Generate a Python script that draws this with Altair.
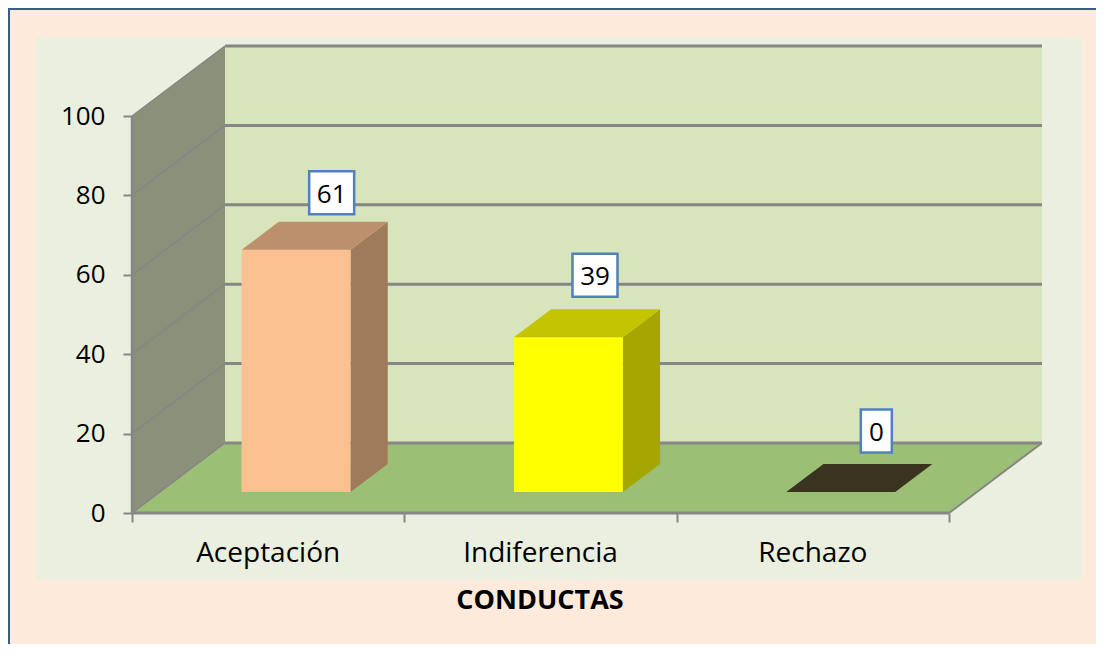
import altair as alt

categories = ["Aceptación", "Indiferencia", "Rechazo"]
values = [61, 39, 0]
ticks = [0, 20, 40, 60, 80, 100]
axis_title = "CONDUCTAS"

front_colors = ["#FAC090", "#FFFF00", "#4D4429"]
top_colors = ["#BC906C", "#C4C400", "#3A3320"]
side_colors = ["#9F7A5B", "#A6A600", "#2E2819"]

# canvas and projection geometry
W, H = 1088, 636
OX, OY = 8, 8                 # page margin
X0_PX, Y0_PX = 132, 513       # front-left origin on the page
PX_PER_CAT = 272.33
PX_PER_VAL = 3.97
DX = 93 / PX_PER_CAT          # depth shift per full depth, in category units
DY = 70 / PX_PER_VAL          # depth shift per full depth, in value units
GAP = 0.30
D0, D1 = 0.30, 0.70
FONT = "Open Sans"
GREY = "#868686"

def ux(px):
    return (px - X0_PX) / PX_PER_CAT

def uy(py):
    return (Y0_PX - py) / PX_PER_VAL

def P(c, v, d=0.0):
    return c + d * DX, v + d * DY

xs = alt.Scale(domain=[ux(OX), ux(OX + W)], range=[0, W], nice=False, zero=False)
ys = alt.Scale(domain=[uy(OY + H), uy(OY)], range=[H, 0], nice=False, zero=False)
x_axis = alt.Axis(values=[0, 1, 2, 3], offset=-(OY + H - Y0_PX), tickSize=9, tickWidth=2, tickColor=GREY,
                  domain=False, grid=False, labels=False, title=None, zindex=1)
y_axis = alt.Axis(values=ticks, offset=-(X0_PX - OX), tickSize=9, tickWidth=2, tickColor=GREY,
                  domain=False, grid=False, title=None, labelFont=FONT, labelFontSize=26,
                  labelColor="#000000", labelPadding=18, zindex=1)
XN = alt.X("x:Q", scale=xs, axis=x_axis)
YN = alt.Y("y:Q", scale=ys, axis=y_axis)
N = len(categories)

def vert(pts, color):
    """Filled face with vertical sides: (x, ytop, ybottom)."""
    rows = [{"x": a, "y": b, "y2": c} for a, b, c in pts]
    return alt.Chart(alt.Data(values=rows)).mark_area(color=color, opacity=1).encode(
        x=XN, y=YN, y2="y2:Q")

def horiz(pts, color):
    """Filled face with horizontal sides: (y, xleft, xright)."""
    rows = [{"y": a, "x": b, "x2": c} for a, b, c in pts]
    return alt.Chart(alt.Data(values=rows)).mark_area(color=color, opacity=1, orient="horizontal").encode(
        y=YN, x=XN, x2="x2:Q")

def seg(a, b, width=2.5, color=GREY):
    rows = [{"x": a[0], "y": a[1], "x2": b[0], "y2": b[1]}]
    return alt.Chart(alt.Data(values=rows)).mark_rule(color=color, strokeWidth=width).encode(
        x=XN, y=YN, x2="x2:Q", y2="y2:Q")

def rect(px0, py0, px1, py1, fill, stroke=None, sw=0):
    rows = [{"x": ux(px0), "x2": ux(px1), "y": uy(py0), "y2": uy(py1)}]
    kw = dict(stroke=stroke, strokeWidth=sw) if stroke else {}
    return alt.Chart(alt.Data(values=rows)).mark_rect(fill=fill, **kw).encode(
        x=XN, y=YN, x2="x2:Q", y2="y2:Q")

layers = []

# plot-area panel
layers.append(rect(36, 37, 1081, 580, "#EBEFDF"))

# page border (top and left only reach the canvas)
layers.append(seg((ux(OX), uy(OY + 1)), (ux(OX + W), uy(OY + 1)), 2, "#385D8A"))
layers.append(seg((ux(OX + 1), uy(OY)), (ux(OX + 1), uy(OY + H)), 2, "#385D8A"))

# walls and floor
top_val = ticks[-1]
layers.append(vert([(DX, top_val + DY, DY), (N + DX, top_val + DY, DY)], "#D8E4BC"))
layers.append(vert([(0, top_val, 0), (DX, top_val + DY, DY)], "#8A9079"))
layers.append(horiz([(0, 0, N), (DY, DX, N + DX)], "#9BBF75"))

# gridlines on back and side walls
for t in ticks:
    if t > 0:
        layers.append(seg(P(0, t, 1), P(N, t, 1), 3))
        layers.append(seg(P(0, t, 0), P(0, t, 1), 1.5))
layers.append(seg(P(0, 0, 1), P(N, 0, 1), 3))
layers.append(seg(P(0, 0, 0), P(0, 0, 1), 1.5))
layers.append(seg(P(N, 0, 0), P(N, 0, 1), 2))
layers.append(seg(P(0, 0, 0), P(N, 0, 0), 3))
layers.append(seg(P(0, 0, 0), P(0, top_val, 0), 2.5))

# 3D bars
for i, v in enumerate(values):
    x0, x1 = i + GAP, i + 1 - GAP
    fx0, base_f = P(x0, 0, D0)
    fx1, _ = P(x1, 0, D0)
    bx1, base_b = P(x1, 0, D1)
    bx0, _ = P(x0, 0, D1)
    if v > 0:
        layers.append(vert([(fx1, base_f + v, base_f), (bx1, base_b + v, base_b)], side_colors[i]))
        layers.append(vert([(fx0, base_f + v, base_f), (fx1, base_f + v, base_f)], front_colors[i]))
    layers.append(horiz([(base_f + v, fx0, fx1), (base_b + v, bx0, bx1)], top_colors[i]))

# value label boxes
nudges = [(17, -43), (8, -48), (17, -47)]
for i, v in enumerate(values):
    cx, cy = P(i + 0.5, v, 0.5)
    px = X0_PX + cx * PX_PER_CAT + nudges[i][0]
    py = Y0_PX - cy * PX_PER_VAL + nudges[i][1]
    hw = 15.5 if v < 10 else 22.5
    layers.append(rect(px - hw, py - 21.5, px + hw, py + 21.5, "#FFFFFF", "#4F81BD", 2.5))
    layers.append(
        alt.Chart(alt.Data(values=[{"x": ux(px), "y": uy(py + 2), "t": str(v)}]))
        .mark_text(font=FONT, fontSize=26, color="#000000", align="center", baseline="middle")
        .encode(x=XN, y=YN, text="t:N"))

# category labels
cat_rows = [{"x": i + 0.5, "y": uy(554), "t": c} for i, c in enumerate(categories)]
layers.append(
    alt.Chart(alt.Data(values=cat_rows))
    .mark_text(font=FONT, fontSize=28, color="#000000", align="center", baseline="middle")
    .encode(x=XN, y=YN, text="t:N"))

# axis title
layers.append(
    alt.Chart(alt.Data(values=[{"x": ux(540), "y": uy(601), "t": axis_title}]))
    .mark_text(font=FONT, fontSize=27, fontWeight="bold", color="#000000", align="center", baseline="middle")
    .encode(x=XN, y=YN, text="t:N"))

chart = alt.layer(*layers).properties(
    width=W, height=H, padding=0, autosize=alt.AutoSizeParams(type="none"),
    background="#FDEADA",
).configure_view(stroke=None)

chart.save("out.html", embed_options={"renderer": "svg", "actions": False})
